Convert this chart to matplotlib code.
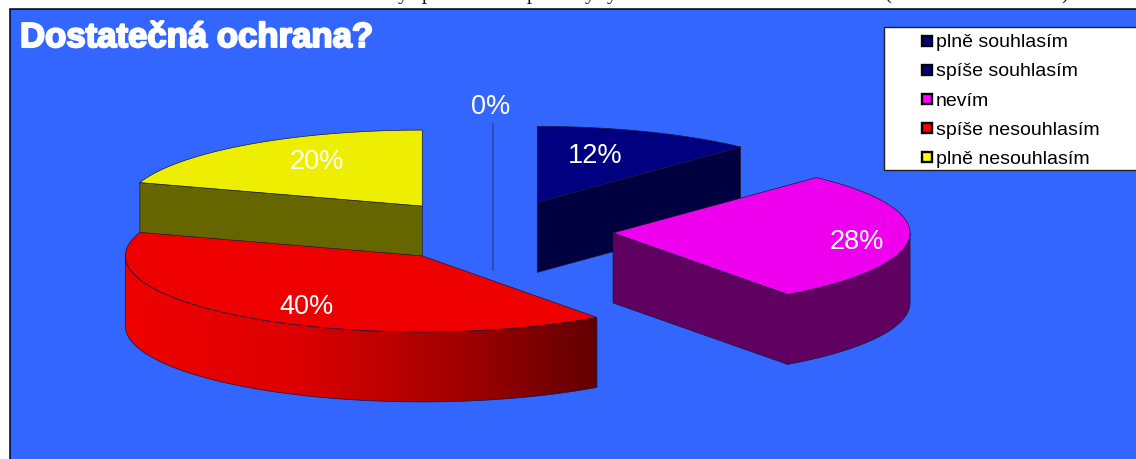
import numpy as np
import matplotlib
matplotlib.use("Agg")
import matplotlib.pyplot as plt
import matplotlib.patheffects as pe
from matplotlib.colors import LinearSegmentedColormap
from matplotlib.legend_handler import HandlerBase
from matplotlib.patches import Patch, Polygon, Rectangle

# Survey answers, in percent
categories = ["plně souhlasím", "spíše souhlasím", "nevím", "spíše nesouhlasím", "plně nesouhlasím"]
shares = [0, 12, 28, 40, 20]
value_labels = ["0%", "12%", "28%", "40%", "20%"]
title_text = "Dostatečná ochrana?"

# Colours per answer: top face, side wall, legend key
top_colors = ["#000080", "#000080", "#EE00EE", "#EE0000", "#EEEE00"]
wall_colors = ["#2A48A0", "#000040", "#600060", "#EE0000", "#666600"]
key_colors = ["#000080", "#000080", "#FF00FF", "#FF0000", "#FFFF00"]
panel_color = "#3366FF"

# Projection of the tilted, exploded pie, in pixels
CX, CY = 493.0, 231.0
RX, RY = 297.0, 76.0
DEPTH = 70.0
EXPLODE = 0.405
EDGE = "#181838"

W, H = 1136, 459
fig = plt.figure(figsize=(W / 100, H / 100), dpi=100, facecolor="white")
ax = fig.add_axes([0, 0, 1, 1])
ax.set_axis_off()

plt.rcParams["font.family"] = ["Liberation Sans", "DejaVu Sans"]

ax.add_patch(Rectangle((9.5, 9.0), W, H, facecolor=panel_color, edgecolor="#000018", linewidth=1.1, zorder=0))

# Descenders of the caption line cut off by the top of the page
for ch, x in zip("yppyy()", [403, 427, 532, 590, 612, 888, 1065]):
    ax.text(x, -0.5, ch, family="Liberation Serif", fontsize=15, color="#111111",
            ha="center", va="baseline", clip_on=True)


def rim(theta_deg, cx, cy):
    """Rim points for clockwise angles measured from twelve o'clock."""
    t = np.radians(theta_deg)
    return np.column_stack([cx + RX * np.sin(t), cy - RY * np.cos(t)])


def wall_from(path):
    """Extrude a top-face edge downwards into a side wall polygon."""
    low = path + [0, DEPTH]
    return np.vstack([path, low[::-1]])


def draw_poly(pts, face, z):
    ax.add_patch(Polygon(pts, closed=True, facecolor=face, edgecolor=EDGE, linewidth=0.5,
                         joinstyle="round", zorder=z))


fractions = np.array(shares, dtype=float) / sum(shares)
ends = np.cumsum(fractions) * 360.0
starts = ends - fractions * 360.0
# Back slices go first so nearer ones overlap them
paint_order = [4, 0, 1, 2, 3]

wall_ramp = LinearSegmentedColormap.from_list(
    "wall_ramp", [(0.0, "#EE0000"), (0.36, "#DE0000"), (0.72, "#A00000"), (1.0, "#620000")])

for z, i in enumerate(paint_order, start=2):
    a, b = starts[i], ends[i]
    mid = np.radians((a + b) / 2)
    ax_, ay_ = CX + EXPLODE * RX * np.sin(mid), CY - EXPLODE * RY * np.cos(mid)
    apex = np.array([[ax_, ay_]])

    if shares[i] == 0:
        # An empty share collapses to a single vertical seam
        seam = rim(np.array([a]), ax_, ay_)
        ax.plot([ax_, ax_], [seam[0, 1], ay_ + DEPTH], color=wall_colors[i], linewidth=1.2, zorder=z)
        continue

    # Radial cut faces that turn towards the viewer
    for angle, sign in ((a, -1), (b, 1)):
        if sign * np.sin(np.radians(angle)) > 1e-6:
            edge = np.vstack([apex, rim(np.array([angle]), ax_, ay_)])
            draw_poly(wall_from(edge), wall_colors[i], z)

    # Curved outer wall on the near half of the rim
    lo, hi = max(a, 90.0), min(b, 270.0)
    if hi > lo:
        arc = rim(np.linspace(lo, hi, 160), ax_, ay_)
        poly = wall_from(arc)
        if shares[i] == max(shares):
            patch = Polygon(poly, closed=True, facecolor="none", edgecolor=EDGE, linewidth=0.5, zorder=z + 0.1)
            ax.add_patch(patch)
            grad = np.linspace(0, 1, 256).reshape(1, -1)
            im = ax.imshow(grad, cmap=wall_ramp, vmin=0, vmax=1, aspect="auto", zorder=z,
                           extent=[poly[:, 0].min(), poly[:, 0].max(), poly[:, 1].max(), poly[:, 1].min()])
            im.set_clip_path(patch)
        else:
            draw_poly(poly, wall_colors[i], z)

    top = np.vstack([apex, rim(np.linspace(a, b, 200), ax_, ay_)])
    draw_poly(top, top_colors[i], z + 0.2)

# Percentage labels
label_xy = [(491, 107), (595, 156), (857, 242), (307, 307), (317, 162)]
for (x, y), text in zip(label_xy, value_labels):
    ax.text(x, y, text, color="white", fontsize=19.5, ha="center", va="center", zorder=20)

ax.text(20, 47, title_text, color="white", fontsize=25, fontweight="bold", ha="left", va="baseline", zorder=20,
        path_effects=[pe.withStroke(linewidth=1.5, foreground="white")])


class KeyHandler(HandlerBase):
    """Small bordered square pushed to the right end of the handle box."""

    def create_artists(self, legend, orig, xdescent, ydescent, width, height, fontsize, trans):
        side = 7.0
        box = Rectangle((width - side - 0.8, (height - side) / 2 - 1.5), side, side,
                        facecolor=orig.get_facecolor(), edgecolor="#050505", linewidth=1.7, transform=trans)
        return [box]


ax.add_patch(Rectangle((884.0, 27.0), W, 143, facecolor="white", edgecolor="#202020", linewidth=1.0, zorder=21))
handles = [Patch(facecolor=c, label=t) for c, t in zip(key_colors, categories)]
ax.legend(handles=handles, loc="upper left", bbox_to_anchor=(884.5, 32), bbox_transform=ax.transData,
          frameon=False, fontsize=14, borderpad=0, borderaxespad=0, handlelength=2.5, handleheight=1.0,
          handletextpad=0.15, labelspacing=0.5, handler_map={Patch: KeyHandler()}).set_zorder(22)

ax.set_xlim(0, W)
ax.set_ylim(H, 0)
fig.savefig("out.png", dpi=100, facecolor="white")
